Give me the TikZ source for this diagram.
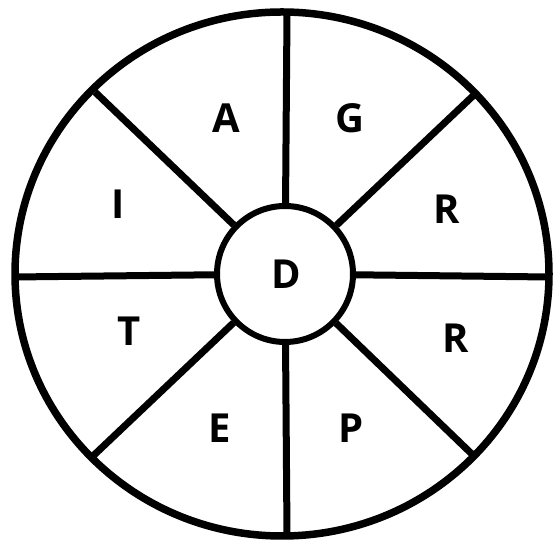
\documentclass[tikz,border=0pt]{standalone}
\usepackage{fontspec}
\setmainfont{Open Sans}
\begin{document}
\begin{tikzpicture}[x=1pt,y=1pt,
  ring/.style={line width=7.5pt},
  spoke/.style={line width=7pt},
  lbl/.style={inner sep=0pt,font=\fontsize{40}{40}\selectfont\bfseries}]
\useasboundingbox (0,0) rectangle (554,540);
% outer ring
\draw[ring] (282,266) ellipse [x radius=267, y radius=262];
% hub
\node[circle,draw,line width=6pt,fill=white,minimum size=136pt,inner sep=0pt] (D) at (285,266) {};
% outer ends of spokes
\coordinate (oT) at (287,527);
\coordinate (oB) at (287,5);
\coordinate (oL) at (14,263);
\coordinate (oR) at (549,263);
\coordinate (oUL) at (95,448);
\coordinate (oUR) at (475,446);
\coordinate (oLL) at (93,84);
\coordinate (oLR) at (476,82);
\foreach \e in {oT,oB,oL,oR,oUL,oUR,oLL,oLR}
  \draw[spoke] (D) -- (\e);
% labels
\node[lbl] (lD) at (286,266) {D};
\node[lbl] (lA) at (226,422) {A};
\node[lbl] (lG) at (350,422) {G};
\node[lbl] (lR1) at (447,331) {R};
\node[lbl] (lR2) at (456,202) {R};
\node[lbl] (lP) at (351,112) {P};
\node[lbl] (lE) at (220,112) {E};
\node[lbl] (lT) at (129,209) {T};
\node[lbl] (lI) at (118,336) {I};
\end{tikzpicture}
\end{document}
